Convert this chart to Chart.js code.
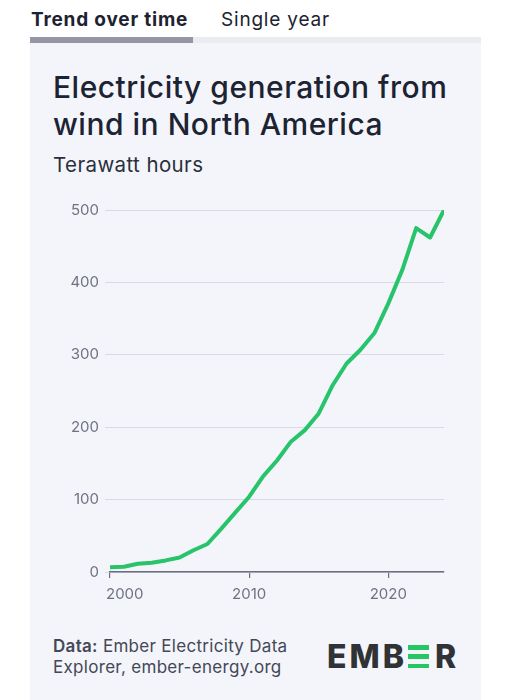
<!DOCTYPE html>
<html>
<head>
<meta charset="utf-8">
<script src="https://cdn.jsdelivr.net/npm/chart.js@4"></script>
<style>
    body { margin: 0; background: #fff; font-family: Inter, "Open Sans", sans-serif; }
    .page { position: relative; width: 511px; height: 700px; overflow: hidden; }
    .tab { position: absolute; top: 8px; font-size: 19px; letter-spacing: 0.8px; color: #1d2230; }
    .tab.active { left: 31px; font-weight: 700; }
    .tab.other { left: 221px; font-weight: 400; }
    .bar-bg { position: absolute; left: 30px; top: 37px; width: 451px; height: 6px; background: #ebecf1; }
    .bar-on { position: absolute; left: 30px; top: 37px; width: 163px; height: 6px; background: #9497a3; }
    .card { position: absolute; left: 30px; top: 43px; width: 451px; height: 657px; background: #f4f5fa; }
    .title { position: absolute; left: 53px; top: 69px; font-size: 30px; font-weight: 500; letter-spacing: 0.5px; line-height: 37px; color: #1c2333; }
    .subtitle { position: absolute; left: 53px; top: 152px; font-size: 20.5px; letter-spacing: 0.4px; color: #2a2f3d; }
    .chart-box { position: absolute; left: 50px; top: 195px; width: 400px; height: 420px; }
    .source { position: absolute; left: 53px; top: 636px; font-size: 17px; letter-spacing: 0.3px; line-height: 21px; color: #434857; }
    .source b { font-weight: 600; }
    .logo { position: absolute; left: 327px; top: 637px; font-size: 32px; font-weight: 800; color: #303236; letter-spacing: 3px; display: flex; align-items: center; }
    .logo .bars { display: inline-flex; flex-direction: column; justify-content: space-between; width: 21px; height: 23px; margin: 0 6px 0 1px; }
    .logo .bars span { display: block; height: 4.5px; background: #24c763; }
</style>
</head>
<body>
<div class="page">
    <div class="tab active">Trend over time</div>
    <div class="tab other">Single year</div>
    <div class="bar-bg"></div>
    <div class="bar-on"></div>
    <div class="card"></div>
    <div class="title">Electricity generation from<br>wind in North America</div>
    <div class="subtitle">Terawatt hours</div>
    <div class="chart-box"><canvas id="windChart"></canvas></div>
    <div class="source"><b>Data:</b> Ember Electricity Data<br>Explorer, ember-energy.org</div>
    <div class="logo">EMB<span class="bars"><span></span><span></span><span></span></span>R</div>
</div>
<script>
// Wind generation, North America (TWh)
const years = [2000, 2001, 2002, 2003, 2004, 2005, 2006, 2007, 2008, 2009, 2010, 2011, 2012,
    2013, 2014, 2015, 2016, 2017, 2018, 2019, 2020, 2021, 2022, 2023, 2024];
const windTwh = [6.5, 7.3, 11.5, 12.9, 16, 20, 30, 38.7, 60, 82, 104, 132, 154,
    180, 196, 219, 258, 288, 307, 330, 371, 417, 475, 462, 500];
const yTicks = [0, 100, 200, 300, 400, 500];
const xTicks = [2000, 2010, 2020];

const fontFamily = 'Inter, "Open Sans", sans-serif';
const tickColor = '#6e7282';

// x labels: first one sits to the right of its tick, the rest are centred
const xLabels = {
    id: 'xLabels',
    afterDraw(chart) {
        const scale = chart.scales.x;
        const ctx = chart.ctx;
        ctx.save();
        ctx.font = `15px ${fontFamily}`;
        ctx.fillStyle = tickColor;
        ctx.textBaseline = 'middle';
        xTicks.forEach((v, i) => {
            const x = scale.getPixelForValue(v);
            ctx.textAlign = i === 0 ? 'left' : 'center';
            ctx.fillText(String(v), i === 0 ? x - 4 : x, scale.top + 22);
        });
        ctx.restore();
    }
};

new Chart(document.getElementById('windChart'), {
    type: 'line',
    data: {
        datasets: [{
            data: years.map((y, i) => ({ x: y, y: windTwh[i] })),
            borderColor: '#27c46b',
            borderWidth: 4,
            pointRadius: 0,
            tension: 0,
            borderJoinStyle: 'round',
            borderCapStyle: 'round'
        }]
    },
    options: {
        responsive: true,
        maintainAspectRatio: false,
        animation: false,
        layout: { padding: { top: 15, right: 6, left: 0, bottom: 0 } },
        plugins: { legend: { display: false }, tooltip: { enabled: false } },
        scales: {
            x: {
                type: 'linear',
                min: 2000,
                max: 2024,
                afterBuildTicks: scale => { scale.ticks = xTicks.map(v => ({ value: v })); },
                afterFit: scale => { scale.height = 43; },
                ticks: { display: false },
                grid: { drawOnChartArea: false, drawTicks: true, tickLength: 6, color: '#6b6f7c', lineWidth: 1.2 },
                border: { color: '#6b6f7c', width: 1.5 }
            },
            y: {
                min: 0,
                max: 500,
                afterBuildTicks: scale => { scale.ticks = yTicks.map(v => ({ value: v })); },
                afterFit: scale => { scale.width = 60; },
                ticks: { color: tickColor, font: { family: fontFamily, size: 15 }, padding: 6 },
                grid: { color: '#d9dbe4', lineWidth: 1, tickLength: 5 },
                border: { display: false }
            }
        }
    },
    plugins: [xLabels]
});
</script>
</body>
</html>
